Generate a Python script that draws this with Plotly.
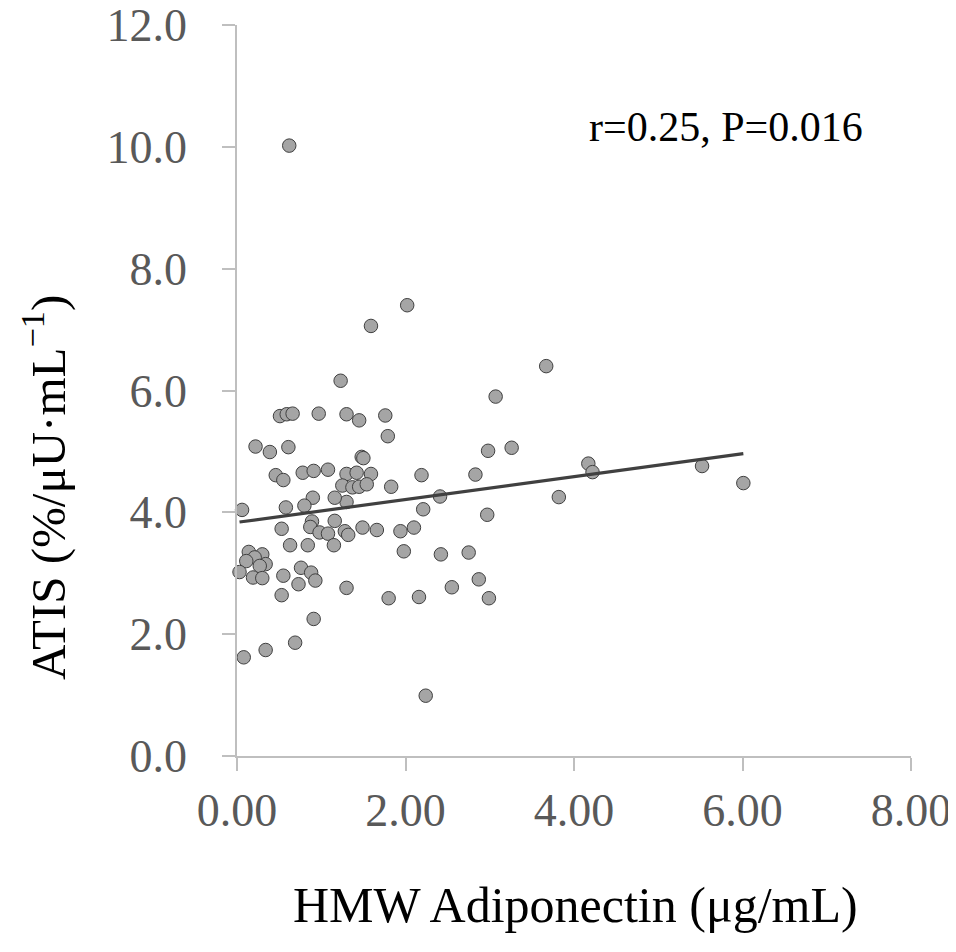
import numpy as np
import plotly.graph_objects as go

# HMW adiponectin (ug/mL) and ATIS values
hmw = [0.62, 2.02, 1.59, 3.67, 1.23, 3.07, 0.51, 0.59, 0.66, 0.97,
       1.30, 1.45, 1.76, 1.79, 0.22, 0.39, 0.61, 1.48, 1.50, 0.46,
       0.55, 0.78, 0.91, 1.08, 1.30, 1.42, 1.59, 2.19, 1.25, 1.37,
       1.45, 1.54, 1.83, 1.30, 0.90, 1.16, 0.80, 0.58, 0.06, 2.21,
       2.41, 0.53, 0.89, 0.87, 0.98, 1.08, 1.16, 1.28, 1.32, 1.49,
       1.66, 1.94, 2.10, 0.63, 0.84, 1.15, 1.98, 2.42, 0.14, 0.30,
       0.21, 0.11, 0.34, 0.27, 0.03, 0.19, 0.30, 0.55, 0.76, 0.88,
       0.93, 0.73, 0.53, 1.30, 1.80, 2.16, 0.91, 0.69, 0.34, 0.08,
       3.82, 2.97, 2.75, 2.87, 2.55, 2.99, 2.24, 2.98, 3.26, 2.83,
       4.17, 4.22, 5.52, 6.01]
atis = [10.02, 7.40, 7.06, 6.40, 6.16, 5.90, 5.58, 5.61, 5.62, 5.62,
        5.61, 5.51, 5.59, 5.25, 5.08, 4.99, 5.07, 4.91, 4.89, 4.61,
        4.53, 4.65, 4.68, 4.70, 4.63, 4.65, 4.63, 4.61, 4.44, 4.41,
        4.42, 4.46, 4.42, 4.17, 4.24, 4.24, 4.11, 4.08, 4.04, 4.05,
        4.26, 3.73, 3.85, 3.76, 3.67, 3.65, 3.86, 3.69, 3.63, 3.75,
        3.71, 3.69, 3.75, 3.46, 3.46, 3.46, 3.36, 3.31, 3.35, 3.31,
        3.26, 3.20, 3.15, 3.12, 3.02, 2.93, 2.92, 2.96, 3.09, 3.01,
        2.88, 2.82, 2.64, 2.76, 2.59, 2.61, 2.25, 1.86, 1.74, 1.62,
        4.25, 3.96, 3.34, 2.90, 2.77, 2.59, 0.99, 5.01, 5.06, 4.62,
        4.80, 4.66, 4.76, 4.48]

x_ticks = [0, 2, 4, 6, 8]
x_tick_labels = ["0.00", "2.00", "4.00", "6.00", "8.00"]
y_ticks = [0, 2, 4, 6, 8, 10, 12]
y_tick_labels = ["0.0", "2.0", "4.0", "6.0", "8.0", "10.0", "12.0"]
stat_text = "r=0.25, P=0.016"
x_title = "HMW Adiponectin (μg/mL)"
y_title = "ATIS (%/μU·mL<sup>−1</sup>)"

xa = np.array(hmw)
ya = np.array(atis)
slope, intercept = np.polyfit(xa, ya, 1)
line_x = np.array([xa.min(), xa.max()])
line_y = slope * line_x + intercept

FONT = "Liberation Serif"
AX = "#bfbfbf"
W, H = 956, 952
OFF = 8  # page body margin
L, T = 237 - OFF, 25 - OFF
PW = 911 - 237
PH = 756 - 25
R = W - L - PW
B = H - T - PH
BOT = T + PH  # plot bottom in figure px


def px_x(page_x):
    return (page_x - OFF - L) / PW


def px_y(page_y):
    return (BOT - (page_y - OFF)) / PH


fig = go.Figure()
fig.add_trace(go.Scatter(
    x=hmw, y=atis, mode="markers",
    marker=dict(size=13.5, color="#a5a5a5", line=dict(color="#404040", width=1)),
    showlegend=False, cliponaxis=False,
))
fig.add_trace(go.Scatter(
    x=line_x, y=line_y, mode="lines",
    line=dict(color="#404040", width=3.2),
    showlegend=False,
))

fig.update_layout(
    width=W, height=H,
    margin=dict(l=L, r=R, t=T, b=B, autoexpand=False),
    paper_bgcolor="white", plot_bgcolor="white",
    font=dict(family=FONT, color="#595959"),
    xaxis=dict(
        range=[0, 8], tickvals=x_ticks, ticktext=x_tick_labels,
        showgrid=False, zeroline=False, automargin=False,
        showline=True, linecolor=AX, linewidth=1.5,
        ticks="outside", ticklen=13, tickcolor=AX, tickwidth=1.5,
        tickfont=dict(family=FONT, size=46, color="#595959"),
        ticklabelstandoff=0, ticklabeloverflow="allow",
    ),
    yaxis=dict(
        range=[0, 12], tickvals=y_ticks, ticktext=y_tick_labels,
        showgrid=False, zeroline=False, automargin=False,
        showline=True, linecolor=AX, linewidth=1.5,
        ticks="outside", ticklen=13, tickcolor=AX, tickwidth=1.5,
        tickfont=dict(family=FONT, size=46, color="#595959"),
        ticklabelstandoff=26, ticklabeloverflow="allow",
    ),
    annotations=[
        dict(text=stat_text, xref="paper", yref="paper",
             x=px_x(726), y=px_y(127),
             xanchor="center", yanchor="middle", showarrow=False,
             font=dict(family=FONT, size=42, color="black")),
        dict(text=x_title, xref="paper", yref="paper",
             x=px_x(575), y=px_y(905),
             xanchor="center", yanchor="middle", showarrow=False,
             font=dict(family=FONT, size=50, color="black")),
        dict(text=y_title, xref="paper", yref="paper",
             x=px_x(45), y=px_y(488),
             xanchor="center", yanchor="middle", showarrow=False,
             textangle=-90,
             font=dict(family=FONT, size=49, color="black")),
    ],
)

fig.write_html("out.html")
